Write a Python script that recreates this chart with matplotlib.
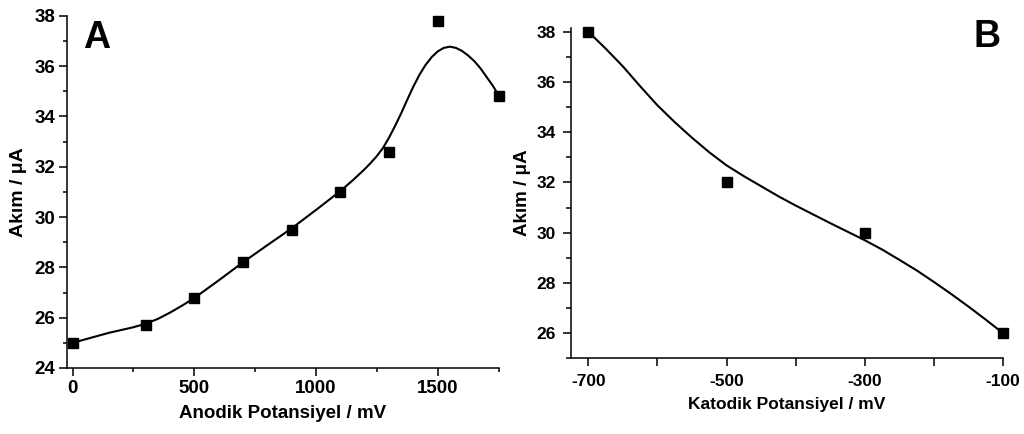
import matplotlib
matplotlib.use("Agg")
import matplotlib.pyplot as plt
from matplotlib.ticker import MultipleLocator, FixedLocator

plt.rcParams['font.family'] = ['Liberation Sans', 'DejaVu Sans']
plt.rcParams['font.weight'] = 'bold'

# Panel A data (anodic potential)
anodic_x = [0, 300, 500, 700, 900, 1100, 1300, 1500, 1750]
anodic_y = [25.0, 25.7, 26.8, 28.2, 29.5, 31.0, 32.6, 37.8, 34.8]
# fitted curve
anodic_fit_x = [0, 75, 150, 250, 300, 350, 400, 450, 500, 600, 700, 800, 900, 1000, 1100, 1150,
                1200, 1225, 1250, 1275, 1300, 1325, 1350, 1375, 1400, 1425, 1450, 1475, 1500, 1525,
                1550, 1575, 1600, 1625, 1650, 1675, 1700, 1725, 1750]
anodic_fit_y = [25.0, 25.2, 25.4, 25.62, 25.76, 25.95, 26.2, 26.48, 26.78, 27.48, 28.2, 28.88, 29.55,
                30.28, 31.03, 31.45, 31.9, 32.15, 32.42, 32.74, 33.15, 33.62, 34.12, 34.66, 35.18,
                35.65, 36.04, 36.35, 36.58, 36.72, 36.77, 36.72, 36.6, 36.42, 36.2, 35.92, 35.58,
                35.24, 34.85]

# Panel B data (cathodic potential)
katodic_x = [-700, -500, -300, -100]
katodic_y = [38.0, 32.0, 30.0, 26.0]
katodic_fit_x = [-700, -675, -650, -625, -600, -575, -550, -525, -500, -475, -450, -425, -400,
                 -375, -350, -325, -300, -275, -250, -225, -200, -175, -150, -125, -100]
katodic_fit_y = [38.0, 37.33, 36.62, 35.83, 35.07, 34.4, 33.78, 33.2, 32.68, 32.25, 31.85, 31.45,
                 31.08, 30.73, 30.38, 30.04, 29.7, 29.33, 28.92, 28.5, 28.04, 27.56, 27.06, 26.54, 26.0]

fig = plt.figure(figsize=(10.24, 4.34), dpi=100)

# ---------- Panel A ----------
axA = fig.add_axes([67/1024, 1-368/434, 432/1024, (368-15.7)/434])
axA.plot(anodic_fit_x, anodic_fit_y, color='black', lw=1.5, clip_on=False)
axA.plot(anodic_x, anodic_y, 's', color='black', ms=7, clip_on=False, zorder=3)
axA.set_xlim(-23, 1752)
axA.set_ylim(24, 38)
axA.xaxis.set_major_locator(FixedLocator([0, 500, 1000, 1500]))
axA.xaxis.set_minor_locator(FixedLocator([250, 750, 1250, 1750]))
axA.yaxis.set_major_locator(MultipleLocator(2))
axA.yaxis.set_minor_locator(MultipleLocator(1))
axA.set_xlabel('Anodik Potansiyel / mV', fontsize=13.5, fontweight='bold', labelpad=6)
axA.set_ylabel('Akım / μA', fontsize=14, fontweight='bold', labelpad=5)
axA.text(0.037, 0.908, 'A', transform=axA.transAxes, fontsize=27, fontweight='bold',
         va='baseline', ha='left')
for lab in axA.get_xticklabels() + axA.get_yticklabels():
    lab.set_fontweight('bold')
axA.tick_params(axis='both', which='major', labelsize=13.5, length=5.5, width=1.1, direction='out', pad=3)
axA.tick_params(axis='both', which='minor', length=3, width=1.1, direction='out')

# ---------- Panel B ----------
axB = fig.add_axes([571/1024, 1-358.3/434, 432/1024, (358.3-27.9)/434])
axB.plot(katodic_fit_x, katodic_fit_y, color='black', lw=1.5, clip_on=False)
axB.plot(katodic_x, katodic_y, 's', color='black', ms=6.5, clip_on=False, zorder=3)
axB.set_xlim(-725, -100)
axB.set_ylim(25, 38.15)
axB.xaxis.set_major_locator(FixedLocator([-700, -600, -500, -400, -300, -200, -100]))
axB.set_xticklabels(['-700', '', '-500', '', '-300', '', '-100'])
axB.yaxis.set_major_locator(FixedLocator([26, 28, 30, 32, 34, 36, 38]))
axB.yaxis.set_minor_locator(FixedLocator([25, 27, 29, 31, 33, 35, 37]))
axB.set_xlabel('Katodik Potansiyel / mV', fontsize=12.5, fontweight='bold', labelpad=6)
axB.set_ylabel('Akım / μA', fontsize=13.5, fontweight='bold', labelpad=4)
axB.text(0.9306, 0.942, 'B', transform=axB.transAxes, fontsize=27, fontweight='bold',
         va='baseline', ha='left')
for lab in axB.get_xticklabels() + axB.get_yticklabels():
    lab.set_fontweight('bold')
axB.tick_params(axis='both', which='major', labelsize=12.5, length=6, width=1.1, direction='out', pad=5)
axB.tick_params(axis='both', which='minor', length=3.5, width=1.1, direction='out')

for ax in (axA, axB):
    ax.spines['top'].set_visible(False)
    ax.spines['right'].set_visible(False)
    ax.spines['left'].set_linewidth(1.1)
    ax.spines['bottom'].set_linewidth(1.1)

fig.savefig('out.png', dpi=100, facecolor='white')
